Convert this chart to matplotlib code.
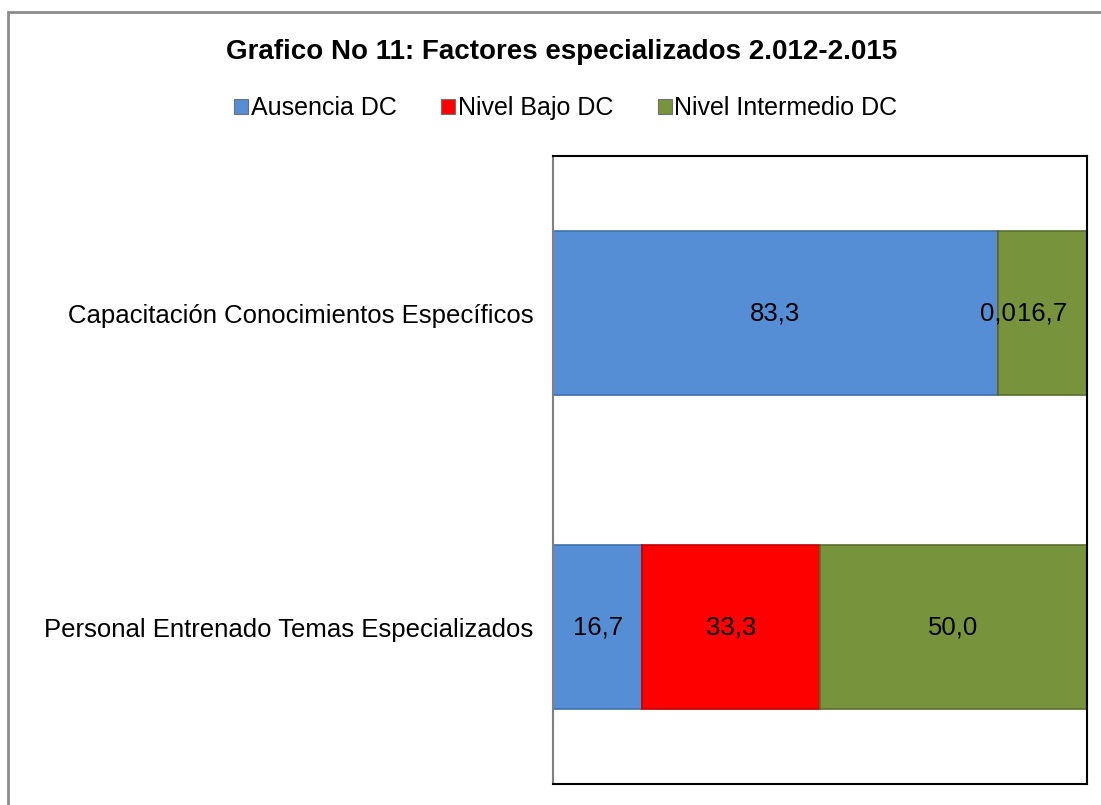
import numpy as np
import matplotlib.pyplot as plt
from matplotlib.patches import Rectangle

plt.rcParams['font.family'] = ['Liberation Sans', 'DejaVu Sans']

# Data
categorias = ["Personal Entrenado Temas Especializados",
              "Capacitación Conocimientos Específicos"]
series = ["Ausencia DC", "Nivel Bajo DC", "Nivel Intermedio DC"]
ausencia = [16.7, 83.3]
bajo = [33.3, 0.0]
intermedio = [50.0, 16.7]

colores = ["#558ED5", "#FF0000", "#77933C"]
bordes = ["#3F6FAA", "#C00000", "#5A7030"]

fig = plt.figure(figsize=(11.01, 8.05), dpi=100)
ax = fig.add_axes([553/1101, 1-784/805, 534/1101, 628/805])

y = np.arange(len(categorias))
valores = [ausencia, bajo, intermedio]
izq = np.zeros(len(categorias))
for vals, c, e, nom in zip(valores, colores, bordes, series):
    ax.barh(y, vals, left=izq, height=0.52, color=c, edgecolor=e,
            linewidth=1.2, label=nom)
    for yi, v, l in zip(y, vals, izq):
        ax.text(l + v/2, yi, "{:.1f}".format(v).replace(".", ","),
                ha='center', va='center', fontsize=18.5)
    izq = izq + np.array(vals)

ax.set_xlim(0, 100)
ax.set_ylim(-0.5, 1.5)
ax.set_xticks([])
ax.set_yticks(y)
ax.set_yticklabels(categorias, fontsize=18.5)
ax.tick_params(axis='y', length=0, pad=14)
for s in ['top', 'right', 'bottom']:
    ax.spines[s].set_color('black')
    ax.spines[s].set_linewidth(1.5)
ax.spines['left'].set_color('#808080')
ax.spines['left'].set_linewidth(1.5)

fig.text(0.51, 1-52/805, "Grafico No 11: Factores especializados 2.012-2.015",
         ha='center', va='center', fontsize=20, fontweight='bold')

handles = [Rectangle((0, 0), 1, 1, facecolor=c, edgecolor='#707070', linewidth=0.8)
           for c in colores]
fig.legend(handles, series, loc='center', bbox_to_anchor=(0.514, 1-108/805),
           ncol=3, frameon=False, fontsize=18, handlelength=0.55, handleheight=0.55,
           handletextpad=0.1, columnspacing=1.8)

# outer frame (left and top visible)
fig.add_artist(Rectangle((8/1101, -0.1), 1.2, 1-12/805+0.1, transform=fig.transFigure,
                         fill=False, edgecolor='#8c8c8c', linewidth=2))

fig.savefig("out.png", dpi=100)
